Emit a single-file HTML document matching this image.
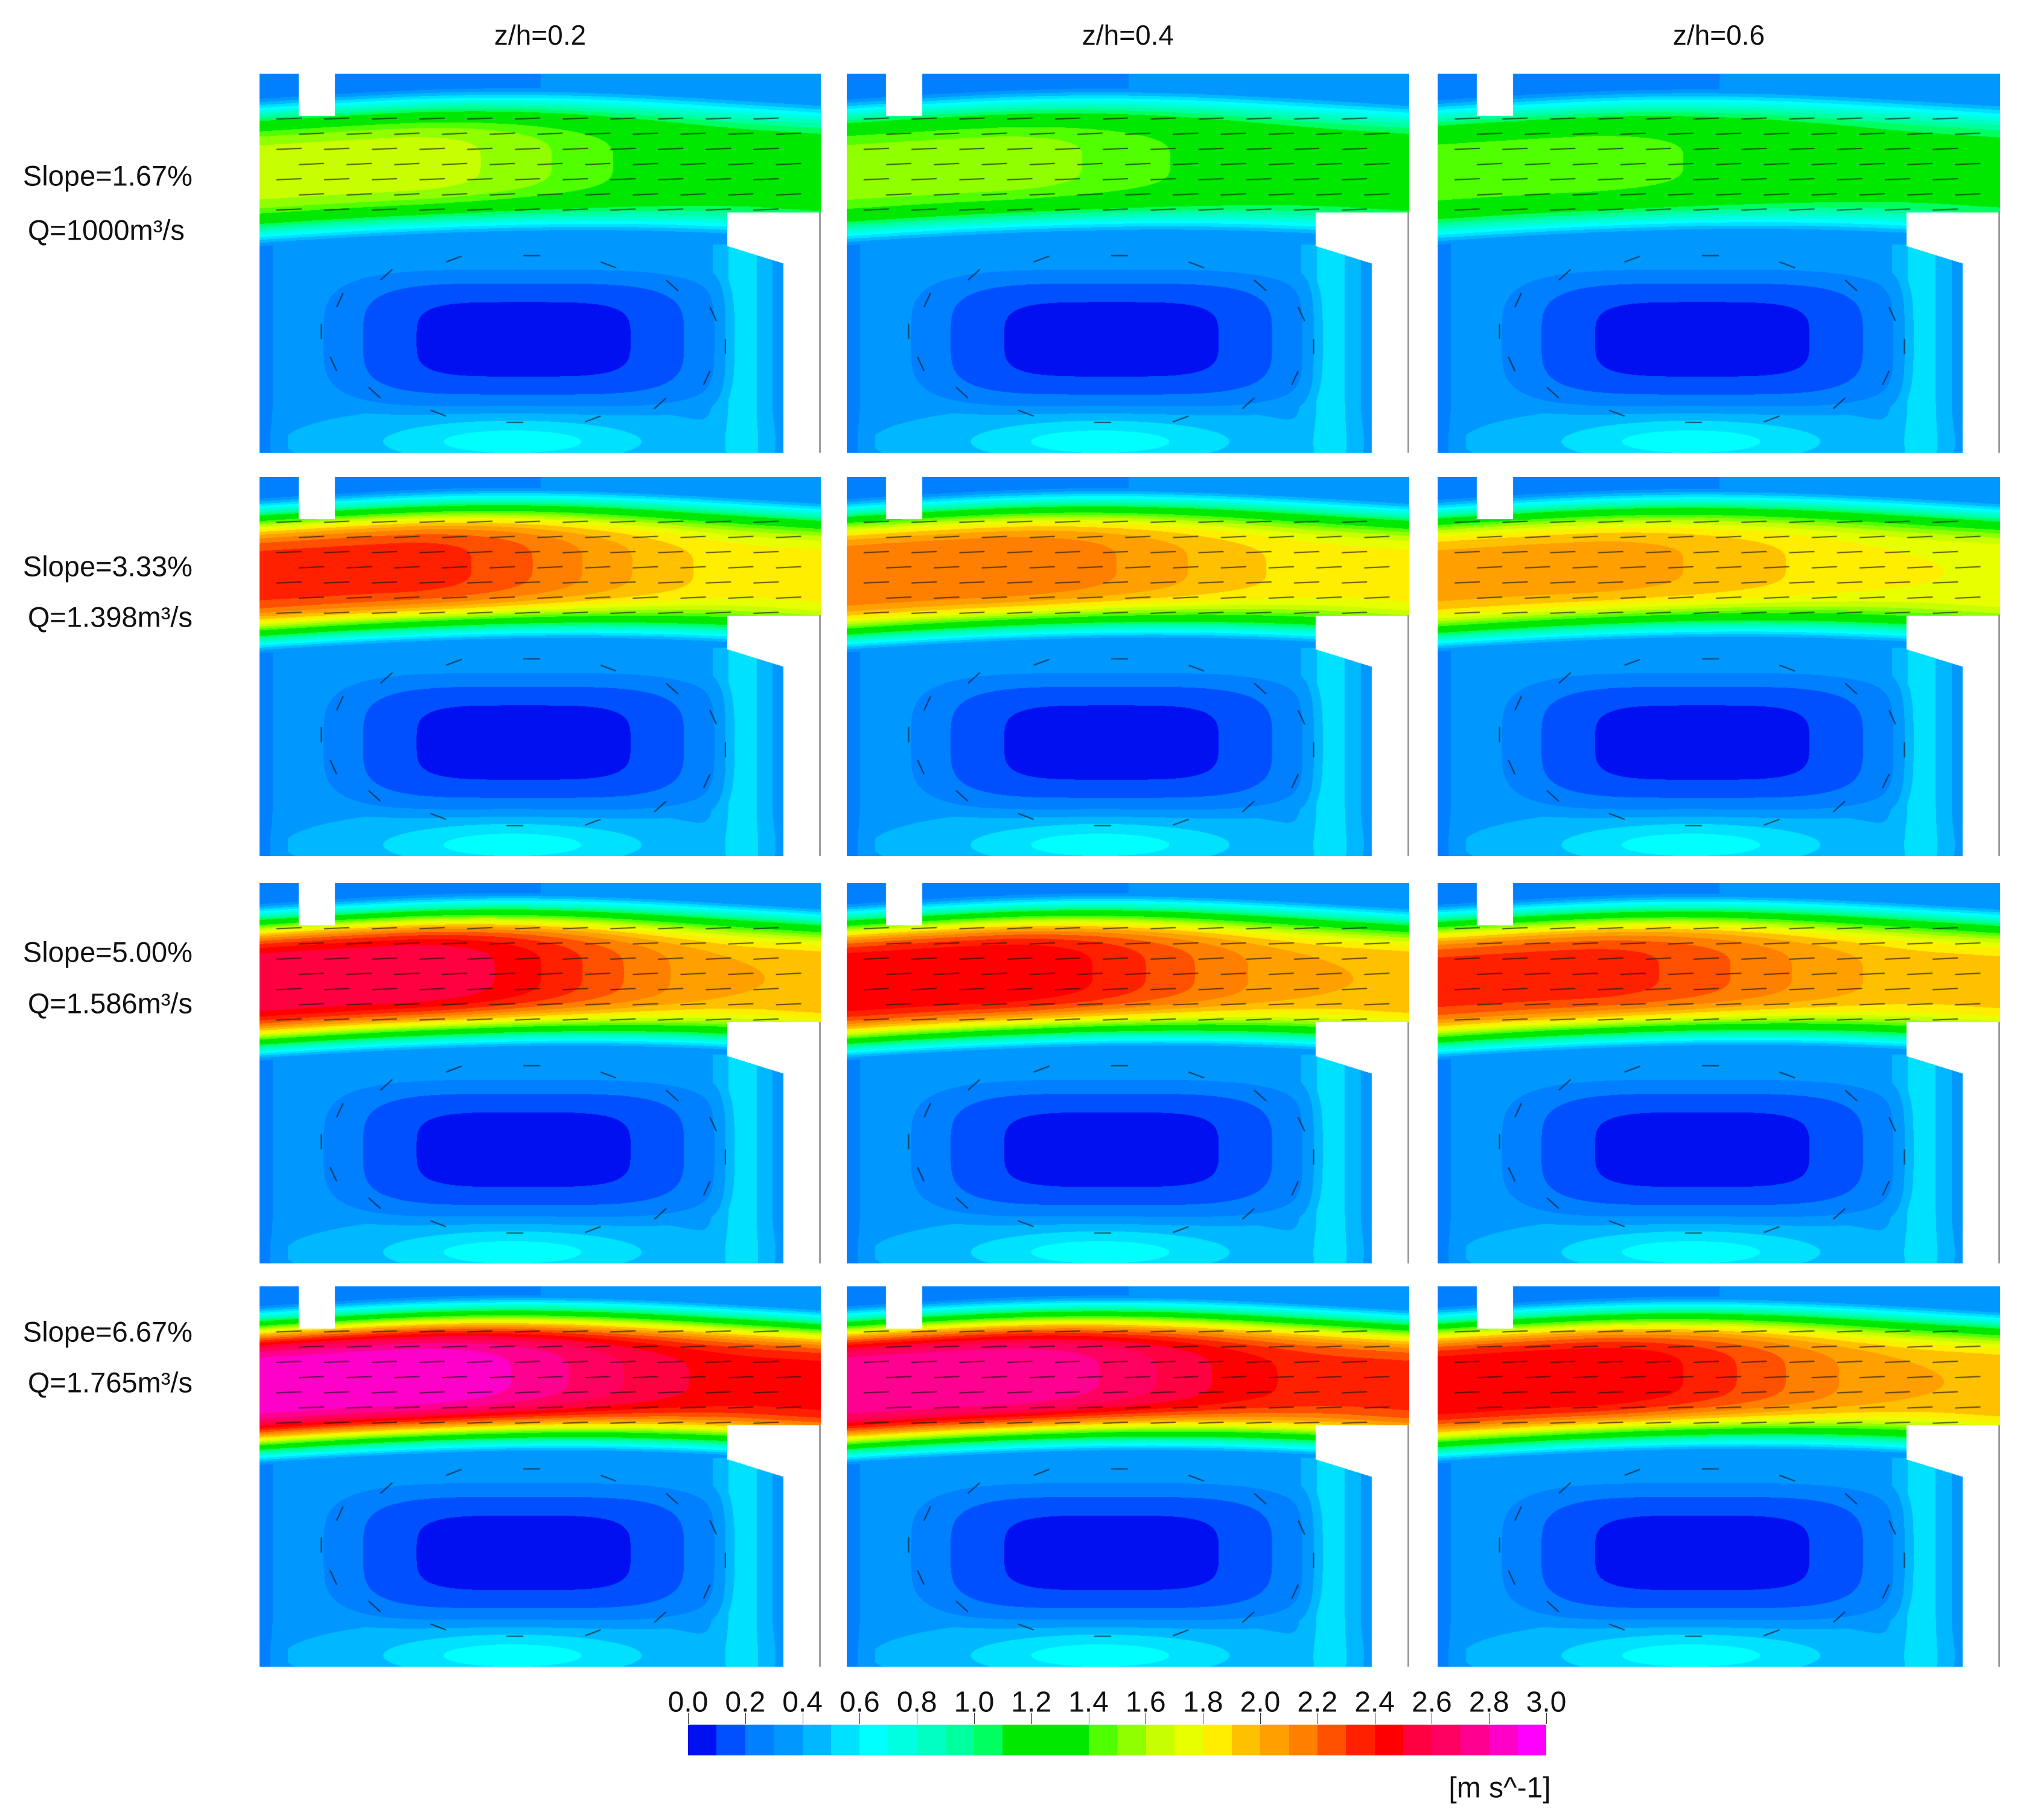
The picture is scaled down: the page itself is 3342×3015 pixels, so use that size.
<!DOCTYPE html>
<html><head><meta charset="utf-8">
<style>
body{margin:0;background:#fff;width:3342px;height:3015px;position:relative;overflow:hidden;font-family:"Liberation Sans",sans-serif;color:#111}
.t{position:absolute;font-size:46px;white-space:nowrap;transform:translate(-50%,-50%)}
.tk{position:absolute;font-size:48px;white-space:nowrap;transform:translate(-50%,-50%)}
.rl{position:absolute;font-size:47px;white-space:nowrap;transform:translateY(-50%)}
canvas{position:absolute}
</style></head><body>
<div id="root"></div>
<script>
const colHeaders=["z/h=0.2","z/h=0.4","z/h=0.6"];
const slopes=["Slope=1.67%","Slope=3.33%","Slope=5.00%","Slope=6.67%"];
const flows=["Q=1000m³/s","Q=1.398m³/s","Q=1.586m³/s","Q=1.765m³/s"];
const peakVel=[[1.65,1.55,1.45],[2.35,2.2,2.05],[2.6,2.5,2.35],[2.9,2.8,2.5]];
const rightVel=[[1.25,1.25,1.2],[1.85,1.85,1.8],[2.0,2.0,1.95],[2.45,2.35,2.0]];
const tickLabels=["0.0","0.2","0.4","0.6","0.8","1.0","1.2","1.4","1.6","1.8","2.0","2.2","2.4","2.6","2.8","3.0"];
const cmap=["#0010f0","#0050ff","#0080ff","#0098ff","#00b8ff","#00e0ff","#00ffff","#00ffe0","#00ffc0","#00ffa0","#00ff60","#00e800","#00e800","#00e800","#50ff00","#90ff00","#c8ff00","#e8ff00","#ffee00","#ffc000","#ffa000","#ff8000","#ff5000","#ff2000","#ff0000","#ff0040","#ff0060","#ff0090","#ff00c8","#ff00ff"];

const root=document.body;
const colX=[[430,1360],[1403,2335],[2382,3314]];
const rowY=[[122,750],[790,1418],[1463,2093],[2131,2761]];
function hex(h){return [parseInt(h.substr(1,2),16),parseInt(h.substr(3,2),16),parseInt(h.substr(5,2),16)];}
const rgb=cmap.map(hex);

colHeaders.forEach((h,i)=>{
  const d=document.createElement('div');d.className='t';d.textContent=h;
  d.style.left=((colX[i][0]+colX[i][1])/2)+'px';d.style.top='58px';
  
  
  root.appendChild(d);
});
const slopeY=[291,938,1577,2206],qY=[381,1022,1662,2290];
slopes.forEach((s,i)=>{
  const a=document.createElement('div');a.className='rl';a.textContent=s;a.style.left='38px';a.style.top=slopeY[i]+'px';
  
  
  root.appendChild(a);
  const b=document.createElement('div');b.className='rl';b.textContent=flows[i];b.style.left='46px';b.style.top=qY[i]+'px';
  
  
  root.appendChild(b);
});

function field(u,v,Vp,Vr){
  const sm=Math.min(1,Math.max(0,(u-0.25)/0.65));const s=sm*sm*(3-2*sm);
  const V=Vp-(Vp-Vr)*s;
  const c=0.26-0.03*Math.sin(Math.PI*u);
  const d=(v-c)/0.17;
  let jet=V*Math.exp(-d*d*d*d);
  let base=0.3;
  if(v>0.365){
    const du=(u-0.47)/0.33,dv=(v-0.70)/0.17;
    const r=Math.pow(du*du*du*du+dv*dv*dv*dv,0.25);
    base=Math.min(0.38,0.02+0.24*r*r);
    base+=0.28*Math.exp(-Math.pow((v-0.97)/0.06,2))*Math.exp(-Math.pow((u-0.45)/0.25,2));
    if(v>0.45)base+=0.2*Math.exp(-Math.pow((u-0.86)/0.035,2));
    if(u<0.05)base-=0.15*(1-u/0.05);
  } else {
    base=0.25+0.1*u;
  }
  return Math.max(jet,base);
}
function inDomain(u,v){
  if(v<0.111&&u>0.069&&u<0.134)return false;
  if(v>0.365&&u>0.833){
    if(u>0.933)return false;
    if(v<0.454+(u-0.833)/0.1*0.046)return false;
  }
  return true;
}
for(let r=0;r<4;r++)for(let c=0;c<3;c++){
  const x0=colX[c][0],w=colX[c][1]-x0,y0=rowY[r][0],h=rowY[r][1]-y0;
  const cv=document.createElement('canvas');cv.width=w;cv.height=h;
  cv.style.left=x0+'px';cv.style.top=y0+'px';
  
  
  root.appendChild(cv);
  const ctx=cv.getContext('2d');const img=ctx.createImageData(w,h);const D=img.data;
  const Vp=peakVel[r][c],Vr=rightVel[r][c];
  for(let j=0;j<h;j++){const v=j/h;for(let i=0;i<w;i++){const u=i/w;const k=(j*w+i)*4;
    if(!inDomain(u,v)){D[k]=255;D[k+1]=255;D[k+2]=255;D[k+3]=255;continue;}
    let idx=Math.floor(field(u,v,Vp,Vr)/0.1);idx=Math.max(0,Math.min(29,idx));
    const col=rgb[idx];D[k]=col[0];D[k+1]=col[1];D[k+2]=col[2];D[k+3]=255;}}
  ctx.putImageData(img,0,0);
  ctx.fillStyle='#999';ctx.fillRect(w-3,Math.round(0.365*h),3,h-Math.round(0.365*h));
  ctx.strokeStyle='rgba(20,20,20,0.7)';ctx.lineWidth=2;
  for(let a=0;a<7;a++){const vv=0.12+a*0.04;for(let b=0;b<11;b++){const uu=0.03+b*0.085+(a%2)*0.04;
    if(uu>0.95)continue;
    ctx.beginPath();ctx.moveTo(uu*w,vv*h);ctx.lineTo((uu+0.045)*w,(vv-0.003)*h);ctx.stroke();}}
  for(let a=0;a<16;a++){const th=a/16*2*Math.PI;const uu=0.47+0.36*Math.cos(th),vv=0.7+0.22*Math.sin(th);
    if(!inDomain(uu,vv))continue;
    ctx.beginPath();ctx.moveTo(uu*w,vv*h);ctx.lineTo((uu-0.03*Math.sin(th))*w,(vv+0.04*Math.cos(th))*h);ctx.stroke();}
}

const cbL=1140,cbR=2562,cbT=2857,cbB=2908;
const cb=document.createElement('div');


cb.style.cssText=`position:absolute;left:${cbL}px;top:${cbT}px;width:${cbR-cbL}px;height:${cbB-cbT}px;display:flex`;
cmap.forEach((col,i)=>{const s=document.createElement('div');s.style.cssText=`flex:1;background:${col}`;
  
  
  cb.appendChild(s);});
root.appendChild(cb);
tickLabels.forEach((t,i)=>{
  const x=cbL+i*(cbR-cbL)/15;
  const l=document.createElement('div');l.className='tk';l.textContent=t;l.style.left=x+'px';l.style.top='2820px';
  
  
  root.appendChild(l);
  const tk=document.createElement('div');tk.style.cssText=`position:absolute;left:${x}px;top:2838px;width:1px;height:18px;background:#333`;
  
  
  root.appendChild(tk);
});
const un=document.createElement('div');un.className='tk';un.textContent='[m s^-1]';un.style.left='2485px';un.style.top='2962px';


root.appendChild(un);
</script>
</body></html>
